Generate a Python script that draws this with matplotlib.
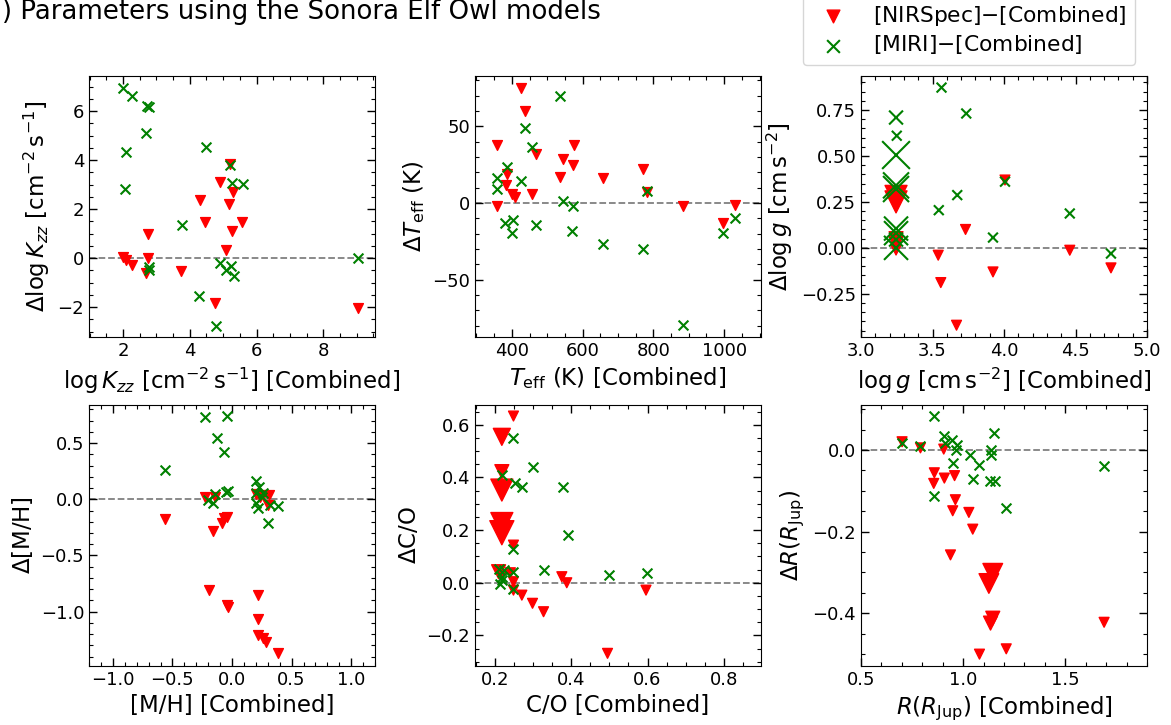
import matplotlib
matplotlib.use("Agg")
import matplotlib.pyplot as plt
from matplotlib.ticker import AutoMinorLocator, MultipleLocator

# ---- data (x = Combined value, y = difference) ----
# log Kzz
kzz_nir_x = [2.0, 2.08, 2.28, 2.75, 2.75, 2.70, 3.75, 4.30, 4.47, 4.90, 5.20, 5.30, 5.18, 5.27, 5.57, 5.10, 4.75, 9.03]
kzz_nir_y = [0.04, -0.07, -0.27, 0.99, 0.0, -0.62, -0.53, 2.38, 1.48, 3.10, 3.85, 2.69, 2.22, 1.09, 1.47, 0.34, -1.84, -2.03]
kzz_miri_x = [2.0, 2.27, 2.72, 2.78, 2.70, 2.10, 2.05, 4.48, 5.20, 5.27, 5.60, 3.77, 9.03, 2.77, 2.77, 4.90, 5.10, 5.25, 5.33, 4.28, 4.78]
kzz_miri_y = [6.95, 6.61, 6.22, 6.18, 5.10, 4.31, 2.82, 4.53, 3.78, 3.06, 3.03, 1.36, 0.0, -0.37, -0.50, -0.19, -0.48, -0.33, -0.73, -1.56, -2.78]

# Teff (K)
teff_nir_x = [425, 436, 358, 575, 468, 546, 572, 537, 659, 770, 386, 384, 400, 410, 457, 358, 782, 884, 997, 1030]
teff_nir_y = [75.3, 60.0, 37.7, 37.7, 32.3, 28.6, 25.0, 16.7, 16.3, 22.0, 18.9, 11.9, 5.9, 3.7, 5.9, -2.2, 6.9, -2.2, -13.0, -1.3]
teff_miri_x = [537, 436, 457, 386, 425, 358, 358, 381, 403, 400, 469, 546, 572, 570, 659, 771, 782, 884, 996, 1030]
teff_miri_y = [69.8, 48.8, 36.7, 23.6, 14.5, 16.3, 9.1, -13.0, -10.8, -19.7, -14.3, 1.1, -2.2, -18.0, -26.7, -29.9, 8.0, -79.8, -19.7, -10.0]

# log g
logg_nir_x = [3.245, 3.245, 3.245, 3.245, 3.245, 3.54, 3.558, 3.668, 3.731, 3.923, 4.007, 4.46, 4.748]
logg_nir_y = [0.28, 0.25, 0.05, 0.024, -0.012, -0.04, -0.189, -0.421, 0.10, -0.131, 0.369, -0.013, -0.109]
logg_nir_n = [5, 5, 2, 2, 1, 1, 1, 1, 1, 1, 1, 1, 1]
logg_miri_x = [3.563, 3.736, 3.245, 3.25, 3.245, 3.245, 3.245, 3.245, 3.245, 3.245, 3.245, 3.544, 3.673, 4.007, 3.923, 4.46, 4.748]
logg_miri_y = [0.872, 0.731, 0.709, 0.610, 0.505, 0.34, 0.32, 0.105, 0.08, 0.0, 0.045, 0.205, 0.287, 0.36, 0.056, 0.187, -0.031]
logg_miri_n = [1, 1, 2, 1, 8, 7, 7, 6, 6, 6, 2, 1, 1, 1, 1, 1, 1]

# [M/H]
mh_nir_x = [-0.56, -0.229, -0.144, -0.07, -0.04, -0.08, -0.159, -0.192, -0.046, -0.033, 0.22, 0.22, 0.22, 0.262, 0.282, 0.383, 0.205, 0.262, 0.313, 0.305, 0.235]
mh_nir_y = [-0.178, 0.024, 0.024, -0.17, -0.16, -0.214, -0.282, -0.807, -0.941, -0.955, -0.85, -1.068, -1.208, -1.237, -1.273, -1.371, 0.047, 0.039, 0.039, -0.05, 0.02]
mh_miri_x = [-0.229, -0.046, -0.13, -0.069, -0.565, -0.144, -0.2, -0.159, -0.032, -0.052, 0.2, 0.228, 0.205, 0.262, 0.205, 0.22, 0.318, 0.383, 0.305, 0.25]
mh_miri_y = [0.73, 0.742, 0.549, 0.424, 0.261, 0.047, -0.006, -0.036, 0.077, 0.068, 0.166, 0.107, 0.053, 0.053, -0.036, -0.08, -0.05, -0.059, -0.214, 0.024]

# C/O
co_nir_x = [0.248, 0.2175, 0.2175, 0.2175, 0.2175, 0.2175, 0.248, 0.209, 0.24, 0.248, 0.248, 0.27, 0.298, 0.327, 0.375, 0.388, 0.596, 0.495, 0.2175]
co_nir_y = [0.633, 0.554, 0.422, 0.352, 0.225, 0.19, 0.143, 0.042, 0.038, 0.004, -0.028, -0.047, -0.078, -0.11, 0.023, 0.0, -0.028, -0.268, 0.03]
co_nir_n = [1, 3, 2, 5, 5, 6, 1, 2, 1, 1, 1, 1, 1, 1, 1, 1, 1, 1, 1]
co_miri_x = [0.248, 0.2175, 0.251, 0.27, 0.298, 0.378, 0.39, 0.248, 0.327, 0.498, 0.598, 0.2175, 0.21, 0.224, 0.213, 0.248, 0.248, 0.2175]
co_miri_y = [0.551, 0.409, 0.38, 0.362, 0.44, 0.362, 0.181, 0.13, 0.048, 0.029, 0.038, 0.023, 0.054, 0.048, -0.003, 0.042, -0.025, 0.01]

# R (R_Jup)
r_nir_x = [0.701, 0.791, 0.905, 0.859, 0.856, 0.908, 0.958, 0.962, 0.949, 1.028, 1.047, 0.938, 1.145, 1.126, 1.145, 1.134, 1.08, 1.211, 1.69]
r_nir_y = [0.02, 0.005, 0.002, -0.056, -0.082, -0.069, -0.063, -0.122, -0.149, -0.153, -0.194, -0.257, -0.302, -0.327, -0.412, -0.424, -0.5, -0.487, -0.422]
r_nir_n = [1, 1, 1, 1, 1, 1, 1, 1, 1, 1, 1, 1, 4, 4, 2, 2, 1, 1, 1]
r_miri_x = [0.859, 1.15, 0.905, 0.946, 0.913, 0.971, 0.966, 0.701, 0.791, 1.134, 1.033, 1.137, 1.08, 0.949, 1.047, 1.131, 1.154, 1.211, 0.859, 1.69]
r_miri_y = [0.083, 0.041, 0.033, 0.024, 0.016, 0.012, 0.0, 0.016, 0.01, 0.0, -0.012, -0.012, -0.037, -0.033, -0.071, -0.076, -0.076, -0.143, -0.113, -0.039]

fig = plt.figure(figsize=(11.71, 7.25), dpi=100)
W, H = 1171, 725

def make_ax(left, top):
    # positions measured in pixels of the reference
    return fig.add_axes([left / W, 1 - (top + 261) / H, 286 / W, 261 / H])

panels = [
    (89, 76, kzz_nir_x, kzz_nir_y, None, kzz_miri_x, kzz_miri_y, None,
     (0.98, 9.55), (-3.22, 7.43), None,
     r'$\log K_{zz}$ [cm$^{-2}\,$s$^{-1}$] [Combined]',
     r'$\Delta\log K_{zz}$ [cm$^{-2}\,$s$^{-1}$]'),
    (475, 76, teff_nir_x, teff_nir_y, None, teff_miri_x, teff_miri_y, None,
     (296, 1104), (-87.4, 82.9), 50,
     r'$T_{\rm eff}$ (K) [Combined]', r'$\Delta T_{\rm eff}$ (K)'),
    (861, 76, logg_nir_x, logg_nir_y, logg_nir_n, logg_miri_x, logg_miri_y, logg_miri_n,
     (3.0, 5.0), (-0.485, 0.935), None,
     r'$\log g$ [cm$\,$s$^{-2}$] [Combined]', r'$\Delta\log g$ [cm$\,$s$^{-2}$]'),
    (89, 405, mh_nir_x, mh_nir_y, None, mh_miri_x, mh_miri_y, None,
     (-1.2, 1.2), (-1.484, 0.84), None,
     '[M/H] [Combined]', r'$\Delta$[M/H]'),
    (475, 405, co_nir_x, co_nir_y, co_nir_n, co_miri_x, co_miri_y, None,
     (0.147, 0.898), (-0.316, 0.675), None,
     'C/O [Combined]', r'$\Delta$C/O'),
    (861, 405, r_nir_x, r_nir_y, r_nir_n, r_miri_x, r_miri_y, None,
     (0.5, 1.9), (-0.529, 0.11), 0.2,
     r'$R(R_{\rm Jup})$ [Combined]', r'$\Delta R(R_{\rm Jup})$'),
]

base = 50
handles = labels = None
for (left, top, nx, ny, nn, mx, my, mn, xl, yl, ystep, xlab, ylab) in panels:
    ax = make_ax(left, top)
    s_nir = base if nn is None else [base * k for k in nn]
    s_miri = base if mn is None else [base * k for k in mn]
    ax.axhline(0, color='grey', ls='--', lw=1.3, zorder=1)
    ax.scatter(nx, ny, marker='v', color='red', s=s_nir, zorder=2,
               label='[NIRSpec]$-$[Combined]')
    ax.scatter(mx, my, marker='x', color='green', s=s_miri, lw=1.5, zorder=3,
               label='[MIRI]$-$[Combined]')
    ax.set_xlim(xl)
    ax.set_ylim(yl)
    ax.set_xlabel(xlab, fontsize=16.5)
    ax.set_ylabel(ylab, fontsize=16.5)
    if ystep is not None:
        ax.yaxis.set_major_locator(MultipleLocator(ystep))
    ax.xaxis.set_minor_locator(AutoMinorLocator())
    ax.yaxis.set_minor_locator(AutoMinorLocator())
    ax.tick_params(which='both', direction='in', top=True, right=True, labelsize=13)
    ax.tick_params(which='major', length=5.5, width=1)
    ax.tick_params(which='minor', length=2.8, width=0.8)
    if handles is None:
        handles, labels = ax.get_legend_handles_labels()

fig.legend(handles, labels, loc='lower right', fontsize=15.7, markerscale=1.3,
           labelspacing=0.25, borderaxespad=0, bbox_to_anchor=(1135 / W, 1 - 65 / H),
           bbox_transform=fig.transFigure)

fig.text(601 / W, 1 - 19 / H, '(a) Parameters using the Sonora Elf Owl models',
         ha='right', va='baseline', fontsize=18.7)

fig.savefig('out.png', dpi=100)
